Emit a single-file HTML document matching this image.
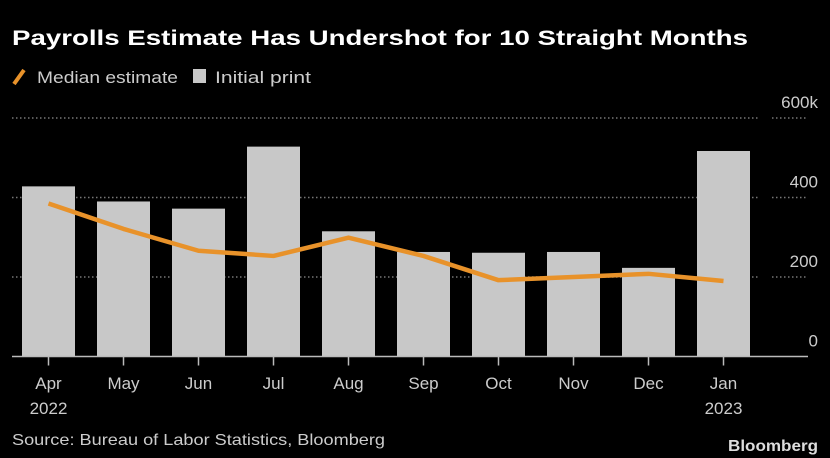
<!DOCTYPE html>
<html><head><meta charset="utf-8"><style>
body{margin:0;background:#000;width:830px;height:458px;overflow:hidden;font-family:"Liberation Sans",sans-serif}
svg{display:block}
</style></head><body>
<svg width="830" height="458">
<text x="12" y="45" fill="#fff" font-size="21" font-weight="bold" textLength="736" lengthAdjust="spacingAndGlyphs">Payrolls Estimate Has Undershot for 10 Straight Months</text>
<g>
<line x1="14" y1="84" x2="24" y2="70" stroke="#e8922a" stroke-width="4"/>
<text x="37" y="83" fill="#ccc" font-size="17" textLength="141" lengthAdjust="spacingAndGlyphs">Median estimate</text>
<rect x="193" y="69" width="13" height="14" fill="#c8c8c8"/>
<text x="215" y="83" fill="#ccc" font-size="17" textLength="96" lengthAdjust="spacingAndGlyphs">Initial print</text>
</g>
<g id="grid"></g><g id="bars"></g><g id="line"></g><g id="axes"></g>
<text x="12" y="445" fill="#ccc" font-size="16" textLength="373" lengthAdjust="spacingAndGlyphs">Source: Bureau of Labor Statistics, Bloomberg</text>
<text x="818" y="451" fill="#ddd" font-size="16" font-weight="bold" text-anchor="end" textLength="90" lengthAdjust="spacingAndGlyphs">Bloomberg</text>
</svg>
<script>
const categories=["Apr","May","Jun","Jul","Aug","Sep","Oct","Nov","Dec","Jan"];
const yearLabels=["2022","","","","","","","","","2023"];
const initialPrint=[428,390,372,528,315,263,261,263,223,517];
const medianEstimate=[385,321,266,253,299,253,192,200,208,190];
const yTicks=[0,200,400,600];
const yTickLabels=["0","200","400","600k"];
const NS="http://www.w3.org/2000/svg";
const y0=356.5,pxPer=79.5/200;
const yS=v=>y0-v*pxPer;
const xC=i=>48.5+i*75;
const bw=53;
function mk(t,a,p){const e=document.createElementNS(NS,t);for(const k in a)e.setAttribute(k,a[k]);p.appendChild(e);return e;}
const grid=document.getElementById('grid'),bars=document.getElementById('bars'),line=document.getElementById('line'),axes=document.getElementById('axes');
yTicks.forEach((v,i)=>{
  if(v>0){
    const g1=mk('line',{x1:12,x2:760,y1:yS(v),y2:yS(v),stroke:'#777','stroke-width':1.5,'stroke-dasharray':'1.5 2.5'},grid);
    
    
    const g2=mk('line',{x1:772,x2:808,y1:yS(v),y2:yS(v),stroke:'#777','stroke-width':1.5,'stroke-dasharray':'1.5 2.5'},grid);
    
    
  }
  const t=mk('text',{x:818,y:yS(v)-10,fill:'#ccc','font-size':17,'text-anchor':'end'},axes);
  t.textContent=yTickLabels[i];
  
  
});
initialPrint.forEach((v,i)=>{
  const r=mk('rect',{x:xC(i)-bw/2,y:yS(v),width:bw,height:y0-yS(v),fill:'#c8c8c8'},bars);
  
  
});
const pl=mk('polyline',{points:medianEstimate.map((v,i)=>xC(i)+','+yS(v)).join(' '),fill:'none',stroke:'#e8922a','stroke-width':4.5,'stroke-linejoin':'round'},line);


const ax=mk('line',{x1:12,x2:808,y1:y0,y2:y0,stroke:'#bbb','stroke-width':1.5},axes);


categories.forEach((c,i)=>{
  const tk=mk('line',{x1:xC(i),x2:xC(i),y1:y0,y2:y0+9,stroke:'#bbb','stroke-width':1.5},axes);
  
  
  const t=mk('text',{x:xC(i),y:389,fill:'#ccc','font-size':17,'text-anchor':'middle'},axes);
  t.textContent=c;
  
  
  if(yearLabels[i]){
    const y=mk('text',{x:xC(i),y:414,fill:'#ccc','font-size':17,'text-anchor':'middle'},axes);
    y.textContent=yearLabels[i];
    
    
  }
});
</script>
</body></html>
